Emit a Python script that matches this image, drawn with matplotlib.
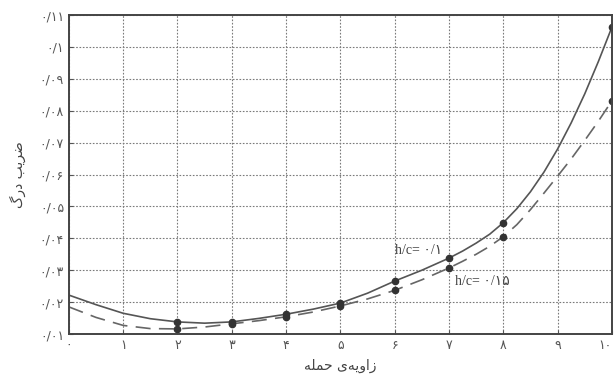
import matplotlib
matplotlib.use("Agg")
import matplotlib.pyplot as plt
import numpy as np

plt.rcParams['font.family'] = ['DejaVu Sans', 'Noto Sans']

# angle of attack (deg) and drag coefficient for the two h/c ratios
alpha = [0, 0.5, 1, 1.5, 2, 2.5, 3, 3.5, 4, 4.5, 5, 5.5, 6, 6.5, 7,
         7.25, 7.5, 7.75, 8, 8.25, 8.5, 8.75, 9, 9.25, 9.5, 9.75, 10]
cd_h010 = [0.0222, 0.0192, 0.0165, 0.0148, 0.0138, 0.0134, 0.0138, 0.0149, 0.0162, 0.0178, 0.0197,
           0.0228, 0.0266, 0.0300, 0.0338,
           0.0360, 0.0385, 0.0413, 0.0449, 0.0493, 0.0546, 0.0608, 0.0680, 0.0762, 0.0853, 0.0954, 0.1062]
cd_h015 = [0.0185, 0.0152, 0.0127, 0.0117, 0.0116, 0.0122, 0.0132, 0.0142, 0.0154, 0.0169, 0.0188,
           0.0210, 0.0237, 0.0270, 0.0307,
           0.0328, 0.0350, 0.0375, 0.0405, 0.0443, 0.0490, 0.0542, 0.0595, 0.0649, 0.0707, 0.0767, 0.0831]
# measured points shown with markers
marker_alpha = [2, 3, 4, 5, 6, 7, 8, 10]

fa_digits = str.maketrans('0123456789', '۰۱۲۳۴۵۶۷۸۹')

def fa_num(s):
    return s.translate(fa_digits)

xticks = list(range(0, 11))
xlabels = [fa_num(str(v)) for v in xticks]
yticks = [0.01, 0.02, 0.03, 0.04, 0.05, 0.06, 0.07, 0.08, 0.09, 0.1, 0.11]
ylabels = [fa_num(('%g' % v).replace('.', '/')) for v in yticks]

# shaped and visually ordered persian labels
xlabel_txt = 'ﻪﻠﻤﺣ ﯼﻪﯾﻭﺍﺯ'
ylabel_txt = 'ﮒﺭﺩ ﺐﯾﺮﺿ'

fig = plt.figure(figsize=(6.15, 3.8), dpi=100)
ax = fig.add_axes([0.112, 0.121, 0.883, 0.8395])

idx = [alpha.index(a) for a in marker_alpha]
ax.plot(alpha, cd_h010, color='#555555', lw=1.2, solid_joinstyle='round')
ax.plot(alpha, cd_h015, color='#666666', lw=1.2, dashes=(9, 5))
ax.plot(marker_alpha, [cd_h010[i] for i in idx], 'o', color='#333333', ms=4.5, ls='none')
ax.plot(marker_alpha, [cd_h015[i] for i in idx], 'o', color='#333333', ms=4.5, ls='none')

ax.text(6.87, 0.0362, 'h/c= ' + fa_num('0/1'), ha='right', va='center', fontsize=10,
        color='#444444', family=['Liberation Serif', 'DejaVu Sans'])
ax.text(7.11, 0.0266, 'h/c= ' + fa_num('0/15'), ha='left', va='center', fontsize=10,
        color='#444444', family=['Liberation Serif', 'DejaVu Sans'])

ax.set_xlim(0, 10)
ax.set_ylim(0.01, 0.11)
ax.set_xticks(xticks)
ax.set_xticklabels(xlabels)
ax.get_xticklabels()[-1].set_ha('right')
ax.set_yticks(yticks)
ax.set_yticklabels(ylabels)
ax.tick_params(labelsize=9, colors='#555555', direction='in', length=3)
ax.grid(True, color='#7a7a7a', lw=0.8, ls=(0, (1.5, 1.5)))
for s in ax.spines.values():
    s.set_color('#444444')
    s.set_linewidth(1.4)

ax.set_xlabel(xlabel_txt, fontsize=10, color='#444444', labelpad=5)
ax.set_ylabel(ylabel_txt, fontsize=10, color='#444444', labelpad=10)

plt.savefig('out.png', dpi=100)
plt.close()
